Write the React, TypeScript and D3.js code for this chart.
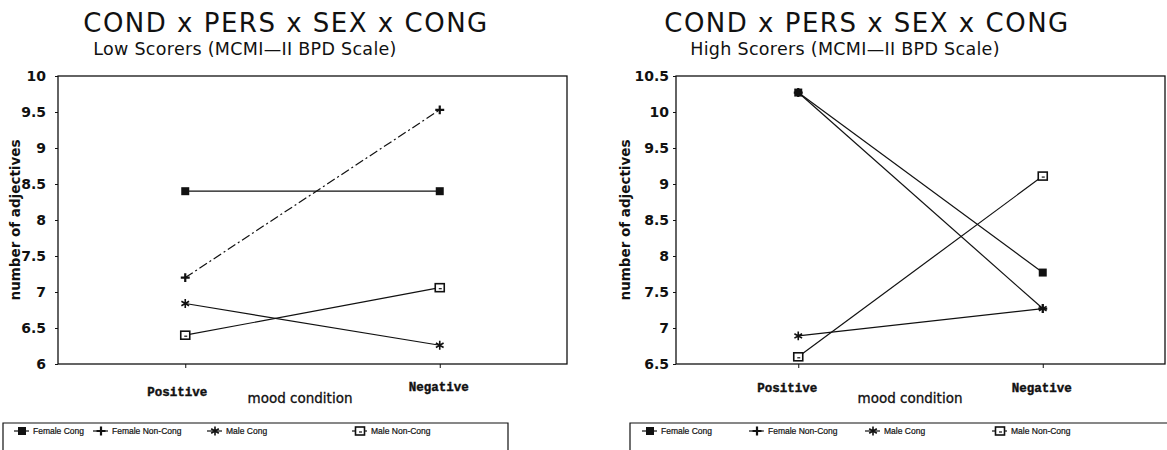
import React, { useRef, useEffect } from 'react';
import * as d3 from 'd3';

const categories = ['Positive', 'Negative'];
const seriesNames = ['Female Cong', 'Female Non-Cong', 'Male Cong', 'Male Non-Cong'];

// values per series: [Positive, Negative]
const lowScorers = [
  [8.4, 8.4],
  [7.2, 9.53],
  [6.84, 6.26],
  [6.4, 7.06],
];
const highScorers = [
  [10.27, 7.77],
  [10.27, 7.27],
  [6.89, 7.27],
  [6.6, 9.11],
];

const lowTicks = [6, 6.5, 7, 7.5, 8, 8.5, 9, 9.5, 10];
const highTicks = [6.5, 7, 7.5, 8, 8.5, 9, 9.5, 10, 10.5];

const mainTitle = 'COND x PERS x SEX x CONG';
const lowSubtitle = 'Low Scorers (MCMI\u2014II BPD Scale)';
const highSubtitle = 'High Scorers (MCMI\u2014II BPD Scale)';
const yTitle = 'number of adjectives';
const xTitle = 'mood condition';

const W = 1167;
const H = 450;
const INK = '#111';

interface Panel {
  left: number;
  right: number;
  subtitle: string;
  values: number[][];
  ticks: number[];
  titleX: number;
  subtitleX: number;
  tickPad: number;
  yTitleX: number;
  xLabelDy: number[];
  xLabelDx: number[];
  xTitleX: number;
  legendLeft: number;
  legendRight: number;
  legendOffsets: number[];
  dashed: boolean[];
}

const panels: Panel[] = [
  {
    left: 58, right: 567, subtitle: lowSubtitle, values: lowScorers, ticks: lowTicks,
    titleX: 286, subtitleX: 245, tickPad: 9, yTitleX: 16,
    xLabelDy: [396, 391], xLabelDx: [-8, -1], xTitleX: 300,
    legendLeft: 3, legendRight: 508, legendOffsets: [19, 98, 212, 357],
    dashed: [false, true, false, false],
  },
  {
    left: 676, right: 1165, subtitle: highSubtitle, values: highScorers, ticks: highTicks,
    titleX: 867, subtitleX: 845, tickPad: 4, yTitleX: 626,
    xLabelDy: [392, 392], xLabelDx: [-11, -1], xTitleX: 910,
    legendLeft: 630, legendRight: 1180, legendOffsets: [20, 127, 243, 370],
    dashed: [false, false, false, false],
  },
];

const TOP = 76;
const BOTTOM = 364;

function drawMarker(g: d3.Selection<SVGGElement, unknown, null, undefined>, kind: number, x: number, y: number) {
  if (kind === 0) {
    g.append('path')
      .attr('d', d3.symbol(d3.symbolSquare, 64)())
      .attr('transform', `translate(${x},${y})`)
      .attr('fill', INK);
  } else if (kind === 1) {
    g.append('path')
      .attr('d', d3.symbol(d3.symbolPlus, 28)())
      .attr('transform', `translate(${x},${y})`)
      .attr('fill', 'none')
      .attr('stroke', INK)
      .attr('stroke-width', 2.2);
  } else if (kind === 2) {
    g.append('path')
      .attr('d', d3.symbol(d3.symbolAsterisk, 55)())
      .attr('transform', `translate(${x},${y})`)
      .attr('fill', 'none')
      .attr('stroke', INK)
      .attr('stroke-width', 1.6);
  } else {
    g.append('rect')
      .attr('x', x - 4.5)
      .attr('y', y - 4)
      .attr('width', 9)
      .attr('height', 8)
      .attr('fill', '#fff')
      .attr('stroke', INK)
      .attr('stroke-width', 1.6);
    g.append('line')
      .attr('x1', x - 1).attr('x2', x + 2)
      .attr('y1', y + 1).attr('y2', y + 1)
      .attr('stroke', INK)
      .attr('stroke-width', 1.2);
  }
}

const App: React.FC = () => {
  const svgRef = useRef<SVGSVGElement>(null);

  useEffect(() => {
    if (!svgRef.current) return;
    const root = d3.select(svgRef.current);
    root.selectAll('*').remove();

    root.append('rect').attr('width', W).attr('height', H).attr('fill', '#fff');

    panels.forEach(p => {
      const g = root.append('g');

      const x = d3.scalePoint<string>().domain(categories).range([p.left, p.right]).padding(0.5);
      const y = d3.scaleLinear()
        .domain([p.ticks[0], p.ticks[p.ticks.length - 1]])
        .range([BOTTOM, TOP]);

      // titles
      g.append('text')
        .attr('x', p.titleX)
        .attr('y', 32)
        .attr('text-anchor', 'middle')
        .attr('font-family', 'DejaVu Sans')
        .attr('font-size', 26)
        .attr('letter-spacing', 1.5)
        .attr('fill', INK)
        .text(mainTitle);

      g.append('text')
        .attr('x', p.subtitleX)
        .attr('y', 55)
        .attr('text-anchor', 'middle')
        .attr('font-family', 'DejaVu Sans')
        .attr('font-size', 17.5)
        .attr('letter-spacing', 0.3)
        .attr('fill', INK)
        .text(p.subtitle);

      // plot frame
      g.append('rect')
        .attr('x', p.left)
        .attr('y', TOP)
        .attr('width', p.right - p.left)
        .attr('height', BOTTOM - TOP)
        .attr('fill', 'none')
        .attr('stroke', INK)
        .attr('stroke-width', 1.3);

      // y axis
      const yAxis = g.append('g')
        .attr('transform', `translate(${p.left},0)`)
        .call(d3.axisLeft(y).tickValues(p.ticks).tickSize(3).tickPadding(p.tickPad).tickFormat(d => String(d)));
      yAxis.select('.domain').remove();
      yAxis.selectAll('line').attr('stroke', INK);
      yAxis.selectAll('text')
        .attr('font-family', 'DejaVu Sans')
        .attr('font-size', 14)
        .attr('font-weight', 'bold')
        .attr('fill', INK);

      // x axis ticks
      const xAxis = g.append('g')
        .attr('transform', `translate(0,${BOTTOM})`)
        .call(d3.axisBottom(x).tickSize(4).tickFormat(() => ''));
      xAxis.select('.domain').remove();
      xAxis.selectAll('line').attr('stroke', INK);

      categories.forEach((c, i) => {
        g.append('text')
          .attr('x', (x(c) || 0) + p.xLabelDx[i])
          .attr('y', p.xLabelDy[i])
          .attr('text-anchor', 'middle')
          .attr('font-family', 'Liberation Mono')
          .attr('font-size', 12.5)
          .attr('font-weight', 'bold')
          .attr('stroke', INK)
          .attr('stroke-width', 0.4)
          .attr('fill', INK)
          .text(c);
      });

      g.append('text')
        .attr('x', p.xTitleX)
        .attr('y', 403)
        .attr('text-anchor', 'middle')
        .attr('font-family', 'DejaVu Sans')
        .attr('font-size', 13.5)
        .attr('stroke', INK)
        .attr('stroke-width', 0.3)
        .attr('fill', INK)
        .text(xTitle);

      g.append('text')
        .attr('transform', `translate(${p.yTitleX + 4},${(TOP + BOTTOM) / 2}) rotate(-90)`)
        .attr('text-anchor', 'middle')
        .attr('font-family', 'DejaVu Sans')
        .attr('font-size', 13.5)
        .attr('font-weight', 'bold')
        .attr('fill', INK)
        .text(yTitle);

      // series lines
      const line = d3.line<number>()
        .x((_, i) => x(categories[i]) || 0)
        .y(d => y(d));

      p.values.forEach((vals, si) => {
        g.append('path')
          .attr('d', line(vals) || '')
          .attr('fill', 'none')
          .attr('stroke', INK)
          .attr('stroke-width', 1.2)
          .attr('stroke-dasharray', p.dashed[si] ? '9,3,2,3' : null);
      });
      p.values.forEach((vals, si) => {
        vals.forEach((v, i) => drawMarker(g, si, x(categories[i]) || 0, y(v)));
      });

      // legend
      const legendTop = 423;
      g.append('path')
        .attr('d', `M${p.legendLeft},${H + 2}V${legendTop}H${p.legendRight}V${H + 2}`)
        .attr('fill', 'none')
        .attr('stroke', INK)
        .attr('stroke-width', 1.2);

      seriesNames.forEach((name, si) => {
        const mx = p.legendLeft + p.legendOffsets[si];
        const my = 431;
        g.append('line')
          .attr('x1', mx - 8).attr('x2', mx + 7)
          .attr('y1', my).attr('y2', my)
          .attr('stroke', INK)
          .attr('stroke-width', 1.2);
        drawMarker(g, si, mx, my);
        g.append('text')
          .attr('x', mx + 11)
          .attr('y', my + 3)
          .attr('font-family', 'Liberation Sans')
          .attr('font-size', 8.5)
          .attr('stroke', INK)
          .attr('stroke-width', 0.2)
          .attr('fill', INK)
          .text(name);
      });
    });
  }, []);

  return (
    <div style={{ position: 'absolute', left: 0, top: 0 }}>
      <svg ref={svgRef} width={W} height={H} style={{ display: 'block' }}></svg>
    </div>
  );
};

export default App;
